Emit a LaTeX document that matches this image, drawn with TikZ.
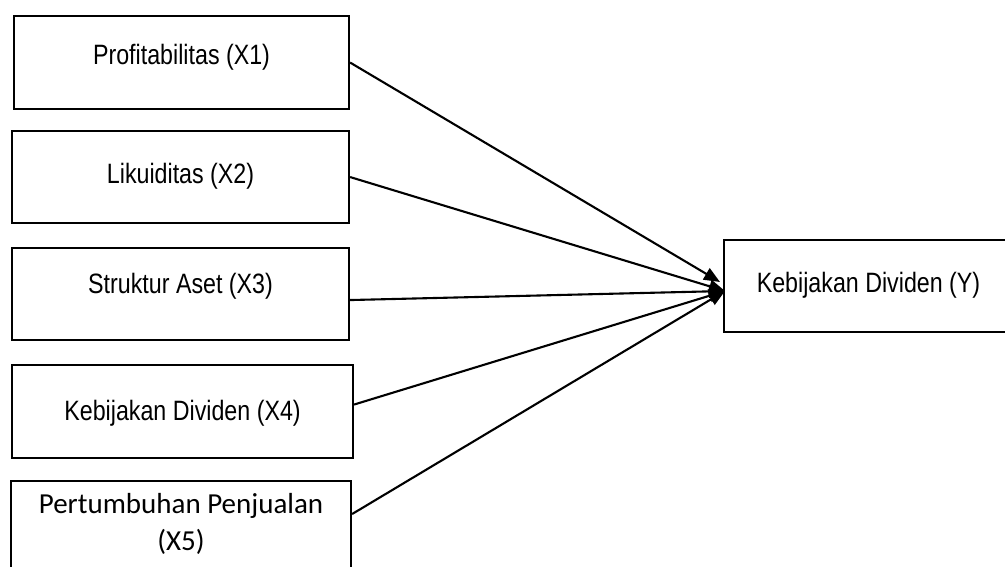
\documentclass[tikz,border=0pt]{standalone}
\usepackage{fontspec}
\setmainfont{Liberation Sans}[FakeStretch=0.83]
\newfontfamily\carlito{Carlito}
\usetikzlibrary{arrows.meta}
\begin{document}
\begin{tikzpicture}[x=1pt,y=-1pt,
  box/.style={draw, line width=2.1pt, rectangle, anchor=north west,
    inner xsep=0pt, inner ysep=0pt, minimum height=0pt, align=center,
    font=\fontsize{28}{33}\selectfont},
  box5font/.style={font=\carlito\fontsize{29}{37}\selectfont},
  arr/.style={line width=2.1pt, -{Triangle[length=16pt,width=13pt]}}]
\clip (0,0) rectangle (1005,567);
\fill[white] (0,0) rectangle (1005,567);
\node[box, minimum width=335pt, text height=48pt, text depth=45pt] (b1) at (13,15) {Profitabilitas (X1)};
\node[box, minimum width=337pt, text height=52pt, text depth=40pt] (b2) at (11,130) {Likuiditas (X2)};
\node[box, minimum width=337pt, text height=45pt, text depth=47pt] (b3) at (11,247) {Struktur Aset (X3)};
\node[box, minimum width=341pt, text height=55pt, text depth=38pt] (b4) at (11,364) {Kebijakan Dividen (X4)};
\node[box, box5font, minimum width=340pt, text height=69pt, text depth=41pt] (b5) at (10,480) {Pertumbuhan Penjualan\\(X5)};
\node[box, minimum width=289pt, text height=52pt, text depth=40pt] (y) at (723,239) {Kebijakan Dividen (Y)};
\coordinate (tA) at (720,282);
\coordinate (tB) at (725,291);
\draw[arr] (b1.east) -- (tA);
\draw[arr] (b2.east) -- (tB);
\draw[arr] ([yshift=-6pt]b3.east) -- (tB);
\draw[arr] ([yshift=7pt]b4.east) -- (tB);
\draw[arr] ([yshift=22pt]b5.east) -- (tB);
\end{tikzpicture}
\end{document}
